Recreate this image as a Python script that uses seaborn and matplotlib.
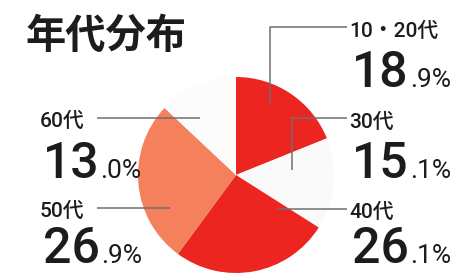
import matplotlib
matplotlib.use("Agg")
import matplotlib.pyplot as plt
import seaborn as sns

# data
groups = ["10・20代", "30代", "40代", "50代", "60代"]
shares = [18.9, 15.1, 26.1, 26.9, 13.0]
slice_colors = ["#ec2520", "#fafafb", "#ec2520", "#f4805c", "#fcfcfd"]

W, H = 454, 275

sns.set_theme(style="white")
plt.rcParams["font.family"] = ["Roboto", "Noto Sans CJK JP", "DejaVu Sans"]

fig = plt.figure(figsize=(W / 100, H / 100), dpi=100)
ax = fig.add_axes([0, 0, 1, 1])

# pie in pixel space (y measured from the top -> flip)
cx, cy, r = 236, 175, 98
ax.pie(shares, colors=slice_colors, startangle=90, counterclock=False,
       center=(cx, H - cy), radius=r, wedgeprops=dict(linewidth=0))
ax.set_xlim(0, W)
ax.set_ylim(0, H)
ax.set_aspect("equal")
ax.axis("off")

ink = "#1c1c1c"
line_c = "#6f6f6f"

def seg(xs, ys):
    ax.plot(xs, [H - y for y in ys], color=line_c, lw=1.1, solid_capstyle="butt")

# leader lines
seg([347, 270, 270], [27, 27, 103])    # 10・20代
seg([347, 292, 292], [118, 118, 170])  # 30代
seg([347, 277], [209, 209])            # 40代
seg([97, 200], [118, 118])             # 60代
seg([97, 170], [208, 208])             # 50代

# label anchors: (x of label, baseline of group label, baseline of number)
anchors = [(349, 37, 87), (349, 128, 178), (349, 218, 263), (40, 217, 263), (40, 127, 178)]

fig.canvas.draw()
rend = fig.canvas.get_renderer()
for name, val, (lx, gy, ny) in zip(groups, shares, anchors):
    ax.text(lx, H - gy, name, fontsize=15, color=ink, va="baseline", ha="left",
            fontweight="medium")
    whole, frac = f"{val:.1f}".split(".")
    big = ax.text(lx + 3, H - ny, whole, fontsize=36, color=ink, va="baseline",
                  ha="left", fontweight="medium")
    bb = big.get_window_extent(renderer=rend)
    x_end = ax.transData.inverted().transform((bb.x1, bb.y0))[0]
    ax.text(x_end + 1, H - ny, f".{frac}%", fontsize=19, color=ink,
            va="baseline", ha="left")

ax.text(26, H - 48, "年代分布", fontsize=29, fontweight="bold", color=ink,
        va="baseline", ha="left", family=["Noto Sans CJK JP", "DejaVu Sans"])

fig.savefig("out.png", dpi=100)
